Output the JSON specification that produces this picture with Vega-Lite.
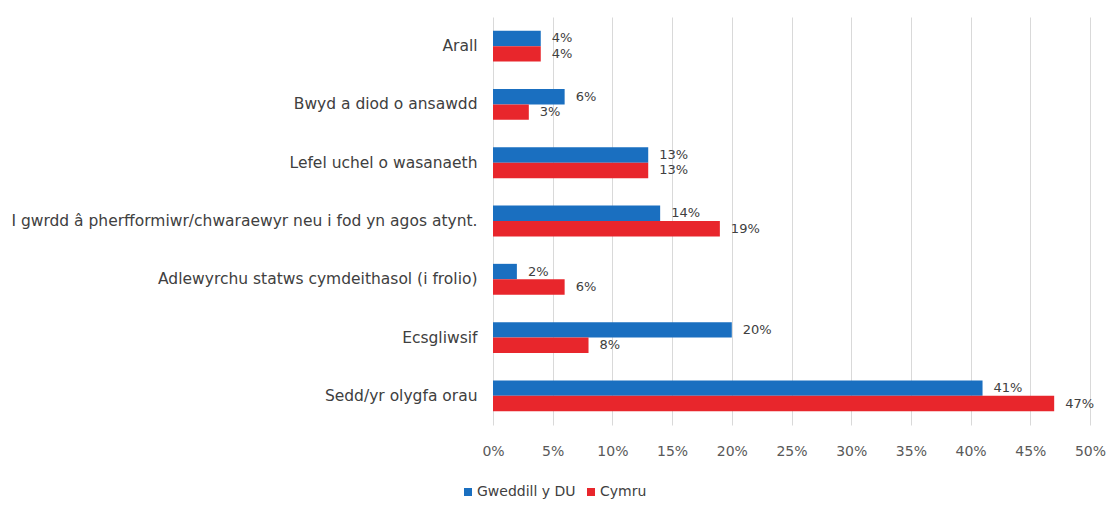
{
  "$schema": "https://vega.github.io/schema/vega-lite/v6.json",
  "width": 597,
  "height": 408,
  "autosize": {"type": "none"},
  "padding": {"left": 493, "top": 17, "right": 26, "bottom": 88},
  "background": "white",
  "config": {
    "font": "DejaVu Sans",
    "view": {"stroke": null},
    "axis": {"labelFont": "DejaVu Sans", "labelColor": "#404040"}
  },
  "data": {
    "values": [
      {"category": "Arall", "series": "Gweddill y DU", "value": 0.04},
      {"category": "Arall", "series": "Cymru", "value": 0.04},
      {"category": "Bwyd a diod o ansawdd", "series": "Gweddill y DU", "value": 0.06},
      {"category": "Bwyd a diod o ansawdd", "series": "Cymru", "value": 0.03},
      {"category": "Lefel uchel o wasanaeth", "series": "Gweddill y DU", "value": 0.13},
      {"category": "Lefel uchel o wasanaeth", "series": "Cymru", "value": 0.13},
      {"category": "I gwrdd â pherfformiwr/chwaraewyr neu i fod yn agos atynt.", "series": "Gweddill y DU", "value": 0.14},
      {"category": "I gwrdd â pherfformiwr/chwaraewyr neu i fod yn agos atynt.", "series": "Cymru", "value": 0.19},
      {"category": "Adlewyrchu statws cymdeithasol (i frolio)", "series": "Gweddill y DU", "value": 0.02},
      {"category": "Adlewyrchu statws cymdeithasol (i frolio)", "series": "Cymru", "value": 0.06},
      {"category": "Ecsgliwsif", "series": "Gweddill y DU", "value": 0.20},
      {"category": "Ecsgliwsif", "series": "Cymru", "value": 0.08},
      {"category": "Sedd/yr olygfa orau", "series": "Gweddill y DU", "value": 0.41},
      {"category": "Sedd/yr olygfa orau", "series": "Cymru", "value": 0.47}
    ]
  },
  "encoding": {
    "y": {
      "field": "category",
      "type": "nominal",
      "sort": null,
      "scale": {"paddingInner": 0.47, "paddingOuter": 0.235},
      "axis": {
        "title": null,
        "ticks": false,
        "domain": false,
        "labelFontSize": 15.5,
        "labelPadding": 16,
        "labelLimit": 600,
        "labelColor": "#404040"
      }
    },
    "yOffset": {
      "field": "series",
      "type": "nominal",
      "sort": ["Gweddill y DU", "Cymru"]
    },
    "x": {
      "field": "value",
      "type": "quantitative",
      "scale": {"domain": [0, 0.5], "nice": false},
      "axis": {
        "title": null,
        "format": ".0%",
        "values": [0, 0.05, 0.1, 0.15, 0.2, 0.25, 0.3, 0.35, 0.4, 0.45, 0.5],
        "ticks": false,
        "domain": false,
        "grid": true,
        "gridColor": "#d9d9d9",
        "gridWidth": 1,
        "labelFlush": false,
        "labelFontSize": 14,
        "labelPadding": 19,
        "labelColor": "#595959"
      }
    }
  },
  "layer": [
    {
      "mark": {"type": "bar"},
      "encoding": {
        "color": {
          "field": "series",
          "type": "nominal",
          "scale": {"domain": ["Gweddill y DU", "Cymru"], "range": ["#1a6fc0", "#e8262c"]},
          "legend": {
            "title": null,
            "orient": "none",
            "direction": "horizontal",
            "legendX": -32,
            "legendY": 468,
            "symbolType": "square",
            "symbolSize": 64,
            "symbolStrokeWidth": 0,
            "labelFontSize": 14,
            "labelColor": "#404040",
            "labelFont": "DejaVu Sans",
            "columnPadding": 8,
            "labelOffset": 2
          }
        }
      }
    },
    {
      "mark": {"type": "text", "align": "left", "baseline": "middle", "dx": 11, "fontSize": 13, "color": "#404040"},
      "encoding": {
        "text": {"field": "value", "type": "quantitative", "format": ".0%"}
      }
    }
  ]
}
